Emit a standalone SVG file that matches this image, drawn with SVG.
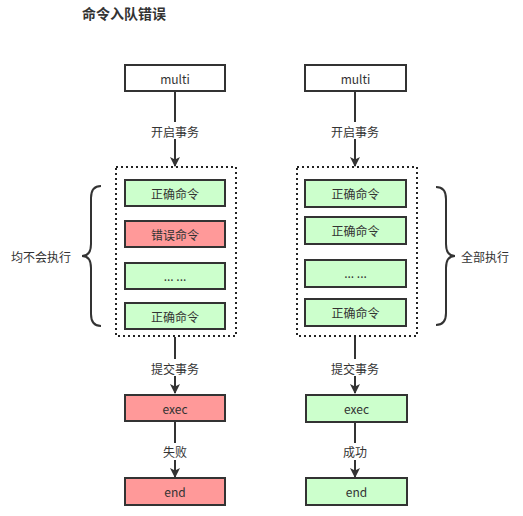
<svg xmlns="http://www.w3.org/2000/svg" width="523" height="516" viewBox="0 0 523 516">
<defs>
<marker id="ah" markerWidth="10" markerHeight="10" refX="9" refY="5" orient="auto" markerUnits="userSpaceOnUse">
<path d="M0,0 L10,5 L0,10 L2.5,5 Z" fill="#333"/>
</marker>
<style>
text{font-family:"Noto Sans CJK SC","Liberation Sans",sans-serif;font-size:12px;fill:#333;text-anchor:middle;dominant-baseline:central}
.w{fill:#fff;stroke:#333;stroke-width:2}
.g{fill:#ccffcc;stroke:#333;stroke-width:2}
.r{fill:#ff9999;stroke:#333;stroke-width:2}
.d{fill:none;stroke:#222;stroke-width:2;stroke-dasharray:2 3}
.c{fill:none;stroke:#333;stroke-width:2}
.lb{fill:#fff}
</style>
</defs>
<rect width="523" height="516" fill="#fff"/>
<text x="82" y="13" style="text-anchor:start;font-size:14px;font-weight:bold">命令入队错误</text>

<g id="connectors">
<line class="c" x1="175" y1="91" x2="175" y2="166" marker-end="url(#ah)"/>
<line class="c" x1="355" y1="91" x2="355" y2="166" marker-end="url(#ah)"/>
<line class="c" x1="175" y1="337" x2="175" y2="393" marker-end="url(#ah)"/>
<line class="c" x1="355" y1="337" x2="355" y2="393" marker-end="url(#ah)"/>
<line class="c" x1="175" y1="421" x2="175" y2="477" marker-end="url(#ah)"/>
<line class="c" x1="355" y1="421" x2="355" y2="477" marker-end="url(#ah)"/>
<rect class="lb" x="148" y="122" width="54" height="17"/>
<text x="175" y="131">开启事务</text>
<rect class="lb" x="328" y="122" width="54" height="17"/>
<text x="355" y="131">开启事务</text>
<rect class="lb" x="148" y="359" width="54" height="17"/>
<text x="175" y="368">提交事务</text>
<rect class="lb" x="328" y="359" width="54" height="17"/>
<text x="355" y="368">提交事务</text>
<rect class="lb" x="160" y="443" width="30" height="17"/>
<text x="175" y="451">失败</text>
<rect class="lb" x="340" y="443" width="30" height="17"/>
<text x="355" y="451">成功</text>
</g>

<g id="left-multi"><rect class="w" x="125" y="65" width="100" height="26"/><text x="175" y="78">multi</text></g>
<g id="right-multi"><rect class="w" x="305" y="65" width="101" height="26"/><text x="355.5" y="78">multi</text></g>

<g id="left-queue">
<rect class="d" x="116" y="167" width="120" height="169"/>
<rect class="g" x="125" y="180" width="100" height="26"/><text x="175" y="193">正确命令</text>
<rect class="r" x="125" y="221" width="100" height="26"/><text x="175" y="234">错误命令</text>
<rect class="g" x="125" y="263" width="100" height="26"/><text x="175" y="275">... ...</text>
<rect class="g" x="125" y="303" width="100" height="26"/><text x="175" y="316">正确命令</text>
</g>
<g id="right-queue">
<rect class="d" x="297" y="167" width="120" height="169"/>
<rect class="g" x="305" y="180" width="101" height="27"/><text x="355.5" y="193.5">正确命令</text>
<rect class="g" x="305" y="217" width="101" height="27"/><text x="355.5" y="230.5">正确命令</text>
<rect class="g" x="305" y="260" width="101" height="27"/><text x="355.5" y="272">... ...</text>
<rect class="g" x="305" y="299" width="101" height="27"/><text x="355.5" y="312.5">正确命令</text>
</g>

<g id="left-brace">
<path class="c" d="M101,186 Q91,186 91,198 L91,244 Q91,256 82,256 Q91,256 91,268 L91,314 Q91,326 101,326"/>
<text x="41" y="256">均不会执行</text>
</g>
<g id="right-brace">
<path class="c" d="M436,187 Q446,187 446,199 L446,244 Q446,256 455,256 Q446,256 446,268 L446,313 Q446,325 436,325"/>
<text x="485" y="256">全部执行</text>
</g>

<g id="left-exec"><rect class="r" x="125" y="395" width="100" height="26"/><text x="175" y="408">exec</text></g>
<g id="right-exec"><rect class="g" x="306" y="395" width="101" height="27"/><text x="356.5" y="408">exec</text></g>
<g id="left-end"><rect class="r" x="125" y="478" width="100" height="27"/><text x="175" y="491">end</text></g>
<g id="right-end"><rect class="g" x="306" y="478" width="101" height="27"/><text x="356.5" y="491">end</text></g>
</svg>
